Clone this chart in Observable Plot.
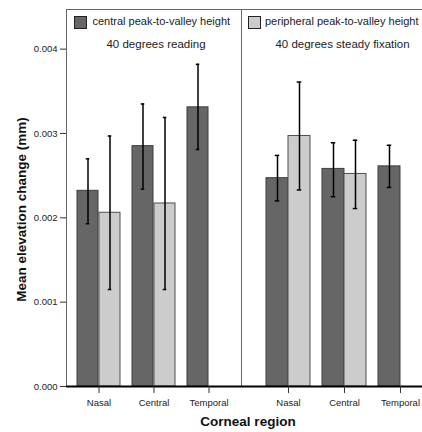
<!DOCTYPE html>
<html>
<head>
<meta charset="utf-8">
<script src="https://cdn.jsdelivr.net/npm/d3@7"></script>
<script src="https://cdn.jsdelivr.net/npm/@observablehq/plot@0.6"></script>
<style>
  body { margin: 0; background: #fff; }
  #chart { position: relative; width: 422px; height: 432px; overflow: hidden; background: #fff;
           font-family: "Liberation Sans", Arial, sans-serif; color: #111; }
  .panel { position: absolute; top: 0; height: 432px; }
  .panel svg { max-width: none !important; height: 432px !important; }
  .swatch { position: absolute; width: 13px; height: 13px; box-sizing: border-box; border: 1px solid #222; }
  .legtext { position: absolute; font-size: 11px; line-height: 11px; white-space: nowrap; color: #222; }
  #xtitle { position: absolute; left: 0; width: 496px; top: 415px; text-align: center;
            font-size: 13.5px; line-height: 13.5px; font-weight: bold; color: #111; }
</style>
</head>
<body>
<div id="chart"></div>
<script>
// ---- data ----
const regions = ["Nasal", "Central", "Temporal"];
const seriesNames = ["central peak-to-valley height", "peripheral peak-to-valley height"];
const panelNames = ["40 degrees reading", "40 degrees steady fixation"];
const yLabel = "Mean elevation change (mm)";
const xLabel = "Corneal region";
const yTicks = [0, 0.001, 0.002, 0.003, 0.004];

// 40 degrees reading
const readingCentralMean = [0.00232, 0.00285, 0.00331];
const readingCentralLo   = [0.00193, 0.00234, 0.00281];
const readingCentralHi   = [0.00270, 0.00335, 0.00382];
const readingPeripheralMean = [0.00206, 0.00217, null];
const readingPeripheralLo   = [0.00115, 0.00115, null];
const readingPeripheralHi   = [0.00297, 0.00319, null];

// 40 degrees steady fixation
const fixationCentralMean = [0.00247, 0.00258, 0.00261];
const fixationCentralLo   = [0.00220, 0.00225, 0.00236];
const fixationCentralHi   = [0.00274, 0.00289, 0.00286];
const fixationPeripheralMean = [0.00297, 0.00252, null];
const fixationPeripheralLo   = [0.00233, 0.00211, null];
const fixationPeripheralHi   = [0.00361, 0.00292, null];

function rows(mean, lo, hi) {
  return regions.map((r, i) => ({region: r, mean: mean[i], lo: lo[i], hi: hi[i]}))
                .filter(d => d.mean != null);
}

const font = '"Liberation Sans", Arial, sans-serif';
const darkFill = "#666666", lightFill = "#cccccc";

function makePanel({width, marginLeft, paddingInner, paddingOuter, central, peripheral, label, labelDx, showY}) {
  const bw = 22; // half of the band: each series occupies one half
  const cap = 19.75;
  const marks = [
    Plot.frame({stroke: "#666", strokeWidth: 1}),
    Plot.barY(central, {x: "region", y: "mean", fill: darkFill, stroke: "#3d3d3d", strokeWidth: 1, insetRight: bw}),
    Plot.barY(peripheral, {x: "region", y: "mean", fill: lightFill, stroke: "#505050", strokeWidth: 1, insetLeft: bw}),
    Plot.ruleY([0], {stroke: "#000", strokeWidth: 2}),
    Plot.ruleX(central, {x: "region", y1: "lo", y2: "hi", dx: -11, stroke: "#000", strokeWidth: 1.5}),
    Plot.tickY(central, {x: "region", y: "lo", dx: -11, insetLeft: cap, insetRight: cap, stroke: "#000", strokeWidth: 1.5}),
    Plot.tickY(central, {x: "region", y: "hi", dx: -11, insetLeft: cap, insetRight: cap, stroke: "#000", strokeWidth: 1.5}),
    Plot.ruleX(peripheral, {x: "region", y1: "lo", y2: "hi", dx: 11, stroke: "#000", strokeWidth: 1.5}),
    Plot.tickY(peripheral, {x: "region", y: "lo", dx: 11, insetLeft: cap, insetRight: cap, stroke: "#000", strokeWidth: 1.5}),
    Plot.tickY(peripheral, {x: "region", y: "hi", dx: 11, insetLeft: cap, insetRight: cap, stroke: "#000", strokeWidth: 1.5}),
    Plot.text([label], {frameAnchor: "top", lineAnchor: "top", dy: 30.5, dx: labelDx, fontSize: 11.5, fill: "#222"}),
    Plot.axisX({tickSize: 7, tickPadding: 6, fontSize: 9.5, label: null, stroke: "#333", fill: "#222"})
  ];
  if (showY) {
    marks.push(Plot.axisY({ticks: yTicks, tickFormat: d3.format(".3f"), tickSize: 6, tickPadding: 3,
                           fontSize: 9.5, label: null, stroke: "#333", fill: "#222"}));
    marks.push(Plot.text([yLabel], {frameAnchor: "left", rotate: -90, textAnchor: "middle", lineAnchor: "middle",
                                    dx: -44.6, dy: 11.5, fontSize: 13.5, fontWeight: "bold", fill: "#111"}));
  }
  return Plot.plot({
    width, height: 432,
    marginLeft, marginRight: 0, marginTop: 9, marginBottom: 46,
    style: {fontFamily: font, background: "transparent", overflow: "visible", maxWidth: "none"},
    x: {type: "band", domain: regions, paddingInner, paddingOuter, align: 0.5},
    y: {domain: [0, 0.00447], axis: showY ? undefined : null},
    marks
  });
}

const chart = document.getElementById("chart");

const left = makePanel({
  width: 241, marginLeft: 66, paddingInner: 0.2115, paddingOuter: 0.1738,
  central: rows(readingCentralMean, readingCentralLo, readingCentralHi),
  peripheral: rows(readingPeripheralMean, readingPeripheralLo, readingPeripheralHi),
  label: panelNames[0], labelDx: 2, showY: true
});
const leftDiv = document.createElement("div");
leftDiv.className = "panel"; leftDiv.style.left = "0px"; leftDiv.style.width = "241px";
leftDiv.appendChild(left);
chart.appendChild(leftDiv);

const right = makePanel({
  width: 206.4, marginLeft: 1, paddingInner: 0.2143, paddingOuter: 0.441,
  central: rows(fixationCentralMean, fixationCentralLo, fixationCentralHi),
  peripheral: rows(fixationPeripheralMean, fixationPeripheralLo, fixationPeripheralHi),
  label: panelNames[1], labelDx: -1.7, showY: false
});
const rightDiv = document.createElement("div");
rightDiv.className = "panel"; rightDiv.style.left = "240px"; rightDiv.style.width = "207px";
rightDiv.appendChild(right);
chart.appendChild(rightDiv);

// legend
function legendItem(x, fill, text, textX) {
  const sw = document.createElement("div");
  sw.className = "swatch";
  sw.style.left = x + "px"; sw.style.top = "15.5px"; sw.style.background = fill;
  chart.appendChild(sw);
  const t = document.createElement("div");
  t.className = "legtext";
  t.style.left = textX + "px"; t.style.top = "15.8px";
  t.textContent = text;
  chart.appendChild(t);
}
legendItem(73.5, darkFill, seriesNames[0], 92.5);
legendItem(248, lightFill, seriesNames[1], 265);

const xt = document.createElement("div");
xt.id = "xtitle"; xt.textContent = xLabel;
chart.appendChild(xt);
</script>
</body>
</html>
